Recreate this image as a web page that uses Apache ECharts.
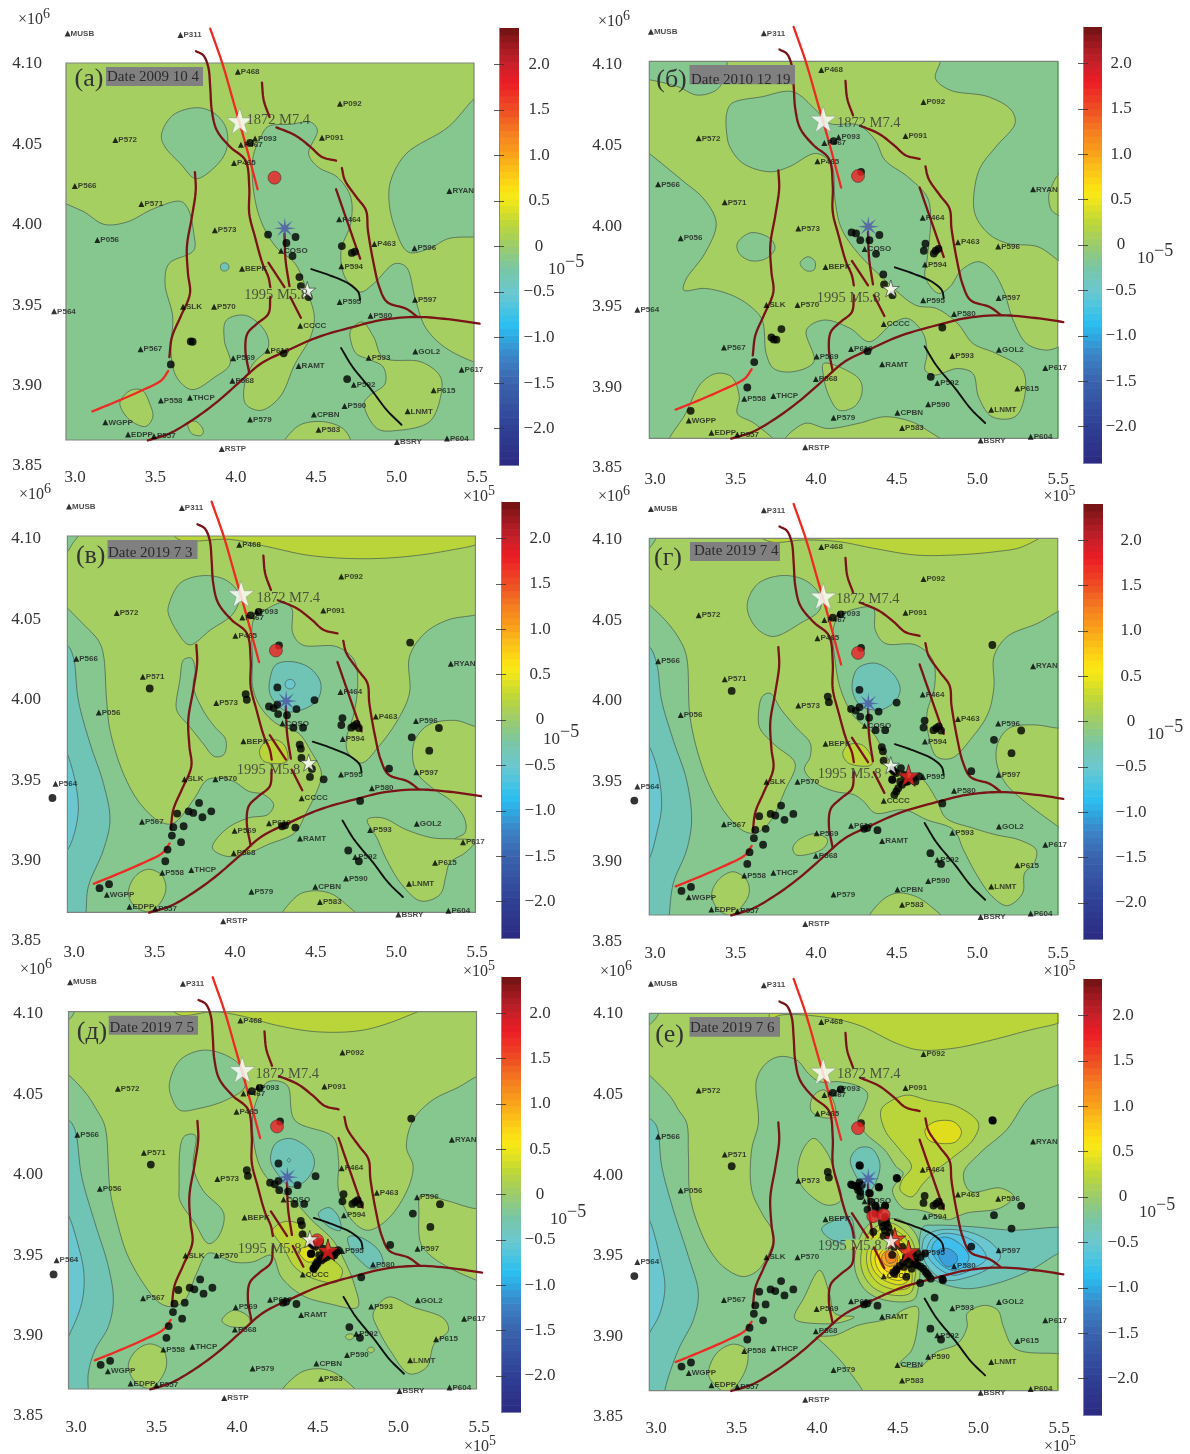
<!DOCTYPE html>
<html><head><meta charset="utf-8"><style>html,body{margin:0;padding:0;background:#fff}#c{width:1190px;height:1454px}</style>
<script src="https://cdn.jsdelivr.net/npm/echarts@6/dist/echarts.min.js"></script></head><body><div id="c"></div>
<script>
// All map values are in km (easting, northing): tick 3.0 x10^5 m = 300 km, 4.10 x10^6 m = 4100 km.
const xTicks={300:'3.0',350:'3.5',400:'4.0',450:'4.5',500:'5.0',550:'5.5'};
const yTicks={3850:'3.85',3900:'3.90',3950:'3.95',4000:'4.00',4050:'4.05',4100:'4.10'};
const mapExtent=[294.4,548.2,3865,4099.4];
const cbarTicks=[-2,-1.5,-1,-0.5,0,0.5,1,1.5,2];
const dates=['Date 2009 10 4','Date 2010 12 19','Date 2019 7 3','Date 2019 7 4','Date 2019 7 5','Date 2019 7 6'];
const letters=['(а)','(б)','(в)','(г)','(д)','(е)'];
const stations=[['MUSB',295.4,4117.7],['P311',365.6,4116.8],['P468',401.3,4094],['P092',464.8,4074.1],['P572',325.1,4051.5],['P093',412,4052.4],['P091',453.6,4053],['P467',403.2,4048.6],['P465',398.9,4037.2],['P566',299.9,4022.9],['RYAN',532.9,4019.8],['P571',341.3,4011.7],['P464',464.3,4002.2],['P573',387,3995.4],['P056',313.9,3989.4],['P463',486.2,3986.9],['COSO',428.2,3982.7],['P596',511.2,3984.2],['P594',465.7,3973],['BEPK',403.9,3971.5],['P597',511.5,3952.2],['P595',464.6,3950.8],['SLK',367.2,3947.9],['P570',386.5,3947.9],['P564',287,3945],['P580',483.8,3942.3],['CCCC',440.1,3936.1],['P567',340.8,3921.4],['P616',419.8,3920.5],['GOL2',511.7,3920.1],['P569',398.4,3915.8],['P593',482.7,3916.2],['RAMT',439.1,3911],['P617',540.5,3908.7],['P568',397.9,3901.9],['P592',473.4,3899.4],['P615',523.1,3895.9],['THCP',371.5,3891.3],['P558',353.4,3889.6],['P590',467.7,3886.1],['LNMT',506.9,3882.8],['CPBN',448.6,3880.9],['P579',408.9,3877.8],['WGPP',318.9,3876],['P583',451.5,3871.4],['EDPP',333,3868.4],['P557',349.1,3867.4],['BSRY',500.3,3863.7],['P604',531.4,3866],['RSTP',391.3,3859.4]];
const faultsDark=[
[[375.3,4106.7],[379.8,4104.2],[382.9,4096.9],[384.1,4084.5],[385.1,4070],[388.2,4057.6],[396.5,4047.2],[406,4038.9],[408.4,4022.3],[408.4,4005.7],[412,3991.2],[416.7,3974.6],[420.3,3966.3],[421.5,3960.1]],
[[416.3,4087.2],[417.4,4076.2],[421,4065.8]],
[[425.3,4059.4],[437,4054.4],[446.5,4047.2],[453.6,4041],[462.4,4038.7]],
[[466,4034.1],[467.9,4026.5],[475,4016.1],[481,4007.8],[482.2,3995.4],[485.8,3974.6],[489.3,3960.1],[494.1,3950.8],[506,3946.6],[512.6,3941.9]],
[[462.4,4020.9],[469.1,4001.6],[477.4,3977.7]],
[[374.6,4031.6],[375.1,4020.2],[372.7,4003.6],[369.6,3985],[370.3,3968.4],[371.5,3956],[365.6,3941.5],[360.3,3929],[358.7,3916.6]],
[[420.3,3975.3],[430.3,3960.1]],
[[430.3,3993.3],[431,3976.7],[433.4,3960.7]],
[[433.9,3953.9],[440.5,3941]],
[[421.5,3953.9],[420.3,3943.5],[413.2,3937.3],[407.2,3931.1],[406,3920.7],[408.4,3906.6]],
[[345.3,3864.8],[358.4,3868.9],[372.7,3877.2],[387,3887.6],[401.3,3900],[415.5,3912.4],[432.2,3920.7],[451.2,3929],[472.7,3935.2],[491.7,3939.8],[513.1,3941.5],[534.5,3939.8],[551.7,3937.3]]];
const faultsRed=[[[384.1,4120.8],[391.7,4099],[398.9,4074.1],[406,4049.3],[413.6,4020.9]],[[310.8,3882.8],[325.1,3888.6],[341.8,3895.9],[353.7,3902.1],[358,3907.9]]];
const faultsBlack=[[[447,3971.3],[458.4,3967.4],[470.3,3962.2],[476.2,3957],[477.4,3952.2]],[[465.5,3922.2],[472.7,3910.4],[484.6,3895.9],[494.1,3883.4],[503.1,3874.5]]];
const star1872=[402.5,4063.4], star1995=[444.5,3958.2], swarmCenter=[430.5,3996.6], redCircleBase=[424.1,4028.1];

const eventsA=[[408.9,4049.7],[420.1,3992.7],[431.5,3987.5],[437.2,3991.2],[435.3,3979.4],[439.6,3966.3],[440.5,3960.7],[445.3,3953.9],[466,3985.6],[472.2,3981.3],[474.1,3982.1],[372,3926.3],[373.2,3926.1],[359.6,3912],[429.8,3918.9],[469.3,3902.9]];
const eventsB=[[408.9,4049.8],[420.1,3993],[422.9,3992.4],[425.5,3988.2],[431.2,3988.2],[437.4,3991.4],[435.3,3979.7],[439.8,3966.9],[440.3,3960.7],[445.5,3954],[466,3986],[465,3981.6],[471.2,3979.9],[472.4,3981.6],[474.1,3982.8],[376.5,3932.9],[370.3,3927.7],[371.7,3926.5],[373.4,3926.3],[359.6,3912.4],[430,3919.2],[476.5,3933.9],[469.3,3903.2],[355.3,3896.6],[320.1,3882.1],[426,4030.7]];
const eventsC=[[408.4,4050],[413.4,4052.1],[426,4031.2],[425,4005.1],[405.3,4000.9],[406,3997.4],[419.8,3993.2],[422.7,3992.2],[425,3994.3],[436.9,3991.6],[448.1,3997.2],[425.5,3988.5],[431,3987.8],[435,3980],[441,3980],[465.5,3986],[464.8,3981.6],[471,3980],[472.7,3981.2],[474.3,3982.4],[475.7,3979.8],[438.9,3969.4],[439.6,3966.9],[440,3961.1],[446.5,3954.3],[445.3,3949.3],[453.8,3947.8],[507.6,4033],[508.6,3974],[525.5,3979.8],[519.5,3965.7],[494.5,3954.5],[476.5,3934.4],[345.6,4004.4],[285.1,3936.2],[376.3,3933.1],[362.7,3926.5],[369.8,3927.9],[372.7,3926.9],[383.9,3927.9],[378.4,3924.2],[366.7,3918.6],[360.3,3918],[359.4,3912.8],[365.1,3908.7],[356.7,3904.1],[355.3,3896.8],[320.3,3882.5],[314.4,3880],[427.9,3918.6],[429.8,3919.2],[436.2,3917.8],[469.1,3903.5],[475.7,3896.8]];
const eventsD=[[445.5,3955.4],[450.8,3956.4],[447.9,3953.3],[452.7,3952.2],[458.6,3950.2],[462.2,3951.2],[455,3948.1],[445.5,3949.1],[451.5,3946],[449.1,3943.9],[447.9,3941.9],[446.7,3939.8],[450.3,3948.1],[459.8,3948.1]];
const eventsE=[[445.1,3948.9],[461.2,3950.1],[458.9,3948],[455.3,3947],[451.7,3944.9],[449.3,3942.9],[447,3939.7],[448.2,3941.4],[453.5,3946],[457,3949.5]];
const eventsF=[[425.3,4004.7],[448.4,3996.8],[507.9,4032.7],[476.9,3933.6],[471.7,3922.8],[462.7,3931.9],[454.1,3935.7],[420.5,3992.7],[423.4,3991.6],[426.5,3992.7],[424.1,3989.6],[425.5,3985.8],[431.5,3987.5],[437.2,3991.2],[432.4,3982.3],[434.8,3979.2],[430,3977.5],[440.8,3979.6],[434.8,3975],[440.8,3973],[442,3968.8],[440.8,3964.7],[433.6,3963.6],[443.1,3960.5],[451.5,3954.3],[455,3948.1],[458.6,3945],[452.7,3941.9],[447.9,3939.8],[446.7,3937.7],[461,3942.9],[464.6,3940.8],[467,3937.7],[469.3,3934.6],[459.8,3947.1],[465.8,3950.2],[457.4,3940.8],[443,3966.5],[441.5,3971],[437,3977],[444,3963],[456,3943.5],[460,3943.5],[463,3942],[466,3939],[468,3936.5],[446,3938.5],[448,3940.5],[450,3942.5],[452,3944.5],[454,3946.5],[456,3948.5],[458,3950],[461,3950.5],[463,3948],[460,3945]];
const redCircles=[[redCircleBase],[redCircleBase],[redCircleBase],[redCircleBase],[redCircleBase,[449.1,3957.4]],[redCircleBase,[433.6,3973.4],[440,3974.2]]];
const redStars=[[],[],[],[[455.5,3951.8]],[[455.8,3951.4]],[[447,3959.5],[455.5,3951.6]]];
const eventsByPanel=[eventsA,eventsB,eventsC,eventsC.concat(eventsD),eventsC.concat(eventsD,eventsE),eventsC.concat(eventsF)];

// Contour regions, each [band, outline]
const contours2009=[
[-0.25,[[285,4011.5],[303.7,4007.8],[318,3999.1],[332.2,4000.5],[348.9,4008.8],[365.6,4013.4],[370.3,4008.8],[373.9,3993.3],[373.9,3982.9],[358.4,3974.6],[356,3962.2],[360.8,3941.5],[359.6,3920.7],[363.2,3904.1],[372.7,3896.3],[387,3904.1],[396.5,3912.4],[392.9,3926.9],[394.1,3939.4],[406,3942.5],[417.9,3933.2],[420.3,3922.8],[410.8,3912.4],[406,3902.1],[406,3887.6],[415.5,3883.4],[427.4,3891.7],[436.9,3912.4],[446.5,3929],[448.9,3941.5],[444.1,3958],[437,3974.6],[425,3985],[415.5,4001.6],[410.8,4022.3],[410.8,4041],[415.5,4053.4],[420.3,4060],[434.6,4061.3],[446.5,4062.7],[450.8,4057.6],[445.3,4043],[451.2,4034.7],[463.1,4028.5],[471.5,4016.1],[471.5,3999.5],[465.5,3982.9],[467.9,3966.3],[477.4,3957],[485.8,3962.2],[498.8,3974.6],[506,3972.6],[511.9,3951.8],[517.9,3935.2],[529.8,3922.8],[548.3,3913.5],[553.6,3912.4],[560,3850],[280,3850]]],
[-0.25,[[556,4082.4],[548.3,4077.2],[532.2,4059.6],[506,4043],[496.5,4026.5],[495.3,4014],[498.8,3997.4],[507.2,3981.9],[520.3,3984],[532.2,3990.2],[548.3,3991.2],[556,3991.2],[565,3990],[565,4085]]],
[-0.25,[[353.7,4054.4],[360.8,4066.9],[376.3,4071.6],[387,4067.9],[394.1,4058.6],[394.1,4045.1],[387,4034.7],[375.1,4027.5],[365.6,4036.8],[356,4047.2]]],
[0,[[471.5,3933.2],[478.6,3938.4],[485.8,3929],[491.7,3916.2],[515.5,3913.5],[527.4,3904.1],[526.9,3889.6],[520.3,3876.2],[501.2,3871],[488.1,3872],[479.8,3887.6],[483.4,3892.7],[492.9,3900],[491.7,3910.4],[483.4,3914.9],[475,3918.7],[471.5,3927]]],
[0,[[328,3888.6],[334.6,3895.9],[341.8,3895.9],[346.5,3887.6],[348.4,3879.3],[344.1,3873.5],[335.8,3876.2],[329.9,3882.4]]],
[0,[[370.3,3875.1],[375.1,3876.6],[379.8,3871],[378.6,3867.9],[372.7,3868.9]]],
[0,[[429.1,3860.6],[434.6,3870],[441.7,3875.1],[456,3876.2],[467.9,3871],[471.5,3860.6]]],
[-0.5,[[392.9,3975.2],[395,3974.4],[395.8,3972.6],[395,3970.8],[392.9,3970],[391,3970.8],[390.5,3972.6],[391,3974.4]]]];

const contours2010=[
[-0.25,[[281.3,4052.5],[294.4,4042.1],[314.6,4025.6],[328.9,4013.1],[336,3998.6],[328.9,3979.9],[317,3963.4],[315.8,3957.1],[328.9,3958.2],[345.6,3954],[357.5,3946.8],[364.6,3938.5],[367,3917.8],[371.7,3908.4],[383.6,3906.4],[396.7,3912.6],[392,3932.3],[402.7,3938.5],[419.3,3933.3],[431.2,3925],[445.5,3936.4],[455,3939.5],[464.6,3930.2],[467,3917.8],[465.8,3907.4],[471.7,3904.3],[486,3908.4],[495.5,3905.3],[499,3890.8],[507.4,3878.4],[521.7,3878.4],[527.6,3890.8],[526.4,3907.4],[509.8,3917.8],[495.5,3924],[486,3936.4],[472.9,3945.7],[459.8,3947.8],[440.8,3963.4],[421.7,3983],[413.4,3996.5],[409.8,4013.1],[407.4,4035.9],[397.9,4042.1],[381.3,4033.8],[369.4,4030.7],[352.7,4035.9],[344.4,4046.3],[342.5,4054.6],[342.5,4067],[345.6,4073.2],[364.6,4077.4],[383.6,4080.5],[397.9,4069.1],[406.3,4060.8],[424.1,4059.8],[434.8,4050.4],[440.8,4038],[455,4027.6],[467,4015.2],[469.3,4002.8],[467,3975.8],[465.8,3965.4],[474.1,3955.1],[481.2,3959.2],[488.4,3969.6],[499,3974.8],[507.4,3969.6],[514.5,3957.1],[520.5,3938.5],[528.8,3924],[540.7,3919.8],[557.4,3921.9],[565,3850],[275,3850]]],
[-0.25,[[475.3,4106.4],[475.3,4099.4],[472.2,4088.8],[481.2,4081.5],[505,4077.4],[519.3,4069.1],[521.7,4060.8],[509.8,4046.3],[500.3,4033.8],[496.7,4021.4],[496.7,4004.8],[505,3992.4],[516.9,3986.2],[535.9,3984.1],[548.3,3975.8],[557.4,3969.6],[565,3965],[565,4112],[480,4112]]],
[0,[[552.6,4031.8],[548.3,4028.7],[544.3,4021.4],[542.6,4015.2],[544.3,4006.9],[548.3,4003.8],[552.6,4001.7],[560,4015]]],
[-0.25,[[281.3,4089.8],[295.6,4087.7],[312.2,4083.6],[324.1,4078.4],[336,4081.5],[340.8,4088.8],[341.3,4102.3],[281.3,4102.3]]],
[0,[[306.3,3859.7],[317,3880.4],[326.5,3899.1],[336,3905.3],[345.6,3903.2],[350.3,3890.8],[349.1,3880.4],[359.8,3874.2],[374.1,3859.7]]],
[0,[[376.5,3859.7],[390.8,3874.2],[405.1,3871.1],[424.1,3874.2],[440.8,3878.4],[457.4,3875.3],[467,3870.1],[480,3859.7]]],
[0,[[402.7,3911.5],[414.6,3908.4],[425.3,3901.2],[426.5,3892.9],[421.7,3884.6],[412.2,3882.5],[406.3,3890.8],[402.7,3903.2]]],
[-0.25,[[349.1,3986.2],[357.5,3992.8],[369.4,3989.3],[372.5,3983.1],[367,3976.8],[357.5,3975.4],[350.3,3979.9]]],
[-0.25,[[388.4,3974.8],[393.2,3977.9],[397.4,3974.8],[396.7,3969.6],[392,3969.2],[388.4,3972.7]]]];

const contours20190703=[
[-0.25,[[288.2,4059.6],[294.4,4054.4],[303.7,4045.1],[313.6,4034.4],[316.7,4026.1],[318.8,3997.1],[320.9,3978.4],[329.2,3951.5],[339.6,3932.8],[352,3921.4],[360.3,3920.4],[372.7,3934.9],[381,3947.3],[388.2,3948.7],[397.7,3946.6],[407.2,3940.4],[416.7,3938.3],[422.7,3932.1],[419.1,3925.9],[407.2,3923.8],[392.9,3916.6],[384.6,3905.1],[392.9,3900],[404.8,3901],[419.1,3907.2],[435.8,3914.5],[442.9,3926.9],[450,3941.4],[452.4,3951.8],[445.3,3966.3],[438.1,3976.6],[423.9,3982.9],[414.3,3993.2],[409.6,4005.7],[409.6,4022.3],[409.1,4040.9],[410.8,4048.2],[419.1,4054.4],[428.6,4057.9],[433.9,4054.4],[434.6,4038.8],[440.5,4031.6],[461.9,4030.5],[472.7,4022.3],[475,4007.7],[472.7,3989.1],[467.9,3972.5],[469.1,3964.2],[477.4,3958],[488.1,3968.4],[500,3985],[507.2,4001.5],[507.2,4024.3],[516.7,4038.8],[531,4047.1],[548.1,4050.2],[554.8,4052.3],[565,3850],[275,3850]]],
[-0.25,[[357.2,4055.4],[364.4,4069.9],[378.6,4074.7],[392.9,4072],[401.2,4062.7],[397.7,4051.3],[383.4,4040.9],[370.3,4031.6],[362,4040.9],[357.2,4051.3]]],
[0.2,[[358.4,4103.1],[364.4,4096.9],[395.3,4097.3],[419.1,4092.7],[442.9,4087.6],[466.7,4085.5],[490.5,4085.5],[514.3,4087.6],[533.3,4090.7],[548.1,4093.8],[554.8,4096.9],[554.8,4107.3],[358.4,4107.3]]],
[-0.25,[[288.2,4084.4],[294.4,4089.6],[297.7,4094.8],[301.3,4100],[302.5,4107.3],[288.2,4107.3]]],
[-0.5,[[285,4035],[294.4,4031.3],[298.1,4024],[301.2,3997.1],[308.5,3970.1],[316.8,3945.3],[320.9,3922.5],[316.8,3903.8],[307.4,3881],[306,3865.4],[305,3855],[285,3855]]],
[-0.6,[[291.9,3970.1],[294.4,3963.9],[299.1,3947.3],[301.2,3928.7],[298.1,3912.1],[294.4,3903.8],[291.9,3901.7],[285,3935]]],
[0,[[554.8,3979.8],[548.1,3980.8],[535.7,3984.5],[519.1,3981.8],[510.7,3972.5],[509.1,3962.1],[511.9,3951.8],[521.4,3942.4],[533.3,3934.2],[541.7,3922.7],[541.7,3914.5],[535.7,3910.7],[554.8,3908.2],[562,3945]]],
[0,[[481,3922.7],[490.5,3923.8],[504.8,3916.6],[521.4,3911.4],[535.7,3910.7],[548.1,3909.3],[541.7,3902],[532.2,3895.8],[529.8,3887.5],[526.2,3876.1],[514.3,3872],[502.4,3882.3],[492.9,3897.9],[486.9,3911.4]]],
[0,[[332.3,3876.9],[336.4,3887.2],[344.7,3891.8],[353,3888.2],[355.7,3880],[352,3870.6],[344.7,3865.4],[336.4,3868.6]]],
[0,[[426.2,3858.5],[437,3875],[445.3,3878.2],[457.2,3877.1],[466.7,3870.9],[477.4,3858.5]]],
[-0.25,[[362,3993.2],[364.4,4009.8],[366.7,4022.3],[371.5,4023.3],[373.9,4016],[372.7,4005.7],[378.6,3991.2],[385.8,3980.8],[392.9,3972.5],[391.7,3963.2],[385.8,3962.1],[378.6,3970.4],[370.3,3980.8],[363.2,3989.1]]],
[-0.5,[[420.3,4009.8],[423.9,4019.1],[433.4,4021.2],[445.3,4017.1],[452,4007.7],[450,3997.4],[440.5,3991.2],[431,3990.1],[423.9,3995.3],[420.3,4001.5]]],
[-0.6,[[432.9,4010.1],[435.1,4009.2],[436,4007.1],[435.1,4005],[432.9,4004.1],[430.7,4005],[429.8,4007.1],[430.7,4009.2]]],
[0.2,[[413.9,3965.2],[416.7,3970.4],[423.9,3972.5],[429.8,3968.4],[431,3959],[416.7,3959]]]];

const contours20190704=[
[-0.25,[[288.4,4063.1],[294.4,4058],[305.1,4047.6],[313.5,4036],[317.6,4025.6],[319.7,3988.3],[325.9,3961.4],[333.2,3942.7],[343.5,3926.1],[353.9,3916.8],[361.1,3916.2],[369.4,3923],[378.8,3942.7],[385,3959.3],[372.5,3970.7],[363.2,3981],[362.2,3989.4],[364.6,4000.9],[369.4,4003],[376.5,3992.7],[386,3981.3],[394.4,3971.9],[394.4,3963.6],[390.8,3955.4],[397.9,3947.1],[409.8,3941.9],[421.7,3939.8],[427.7,3935.6],[434.8,3928.4],[452.7,3930.5],[467,3924.2],[483.6,3918],[489.6,3905.6],[497.9,3890],[507.4,3876.6],[516.9,3870.8],[526.4,3878.6],[527.6,3891],[533.6,3897.3],[534.8,3905.6],[524.1,3911.8],[509.8,3914.9],[495.5,3919.1],[478.8,3925.3],[472.9,3936.7],[464.6,3949.1],[456.2,3953.3],[447.9,3955.4],[440.8,3965.7],[433.6,3978.1],[421.7,3988.5],[413.4,4005.1],[409.8,4023.8],[408.6,4042.4],[412.2,4050.7],[424.1,4055.9],[433.6,4055.9],[434.8,4042.4],[440.8,4034.1],[459.8,4033.1],[470.5,4023.8],[471.7,4007.2],[467,3990.6],[468.1,3976.1],[472.9,3963.6],[482.4,3962.6],[495.5,3976.1],[505,3990.6],[508.6,4007.2],[508.6,4025.8],[516.9,4038.3],[535.9,4046.6],[548.3,4053.8],[557.4,4058],[565,3850],[275,3850]]],
[-0.25,[[355.8,4061.1],[362.2,4071.4],[376.5,4076.2],[390.8,4073.5],[400.3,4064.2],[400.3,4054.9],[388.4,4046.6],[371.7,4038.3],[362.2,4042.4],[355.8,4052.8]]],
[0.2,[[358.7,4104.6],[369.4,4097.3],[390.8,4098.4],[412.2,4097.3],[433.6,4093.2],[459.8,4089],[483.6,4089],[509.8,4091.1],[526.4,4094.2],[541.9,4104.6]]],
[-0.25,[[288.4,4088],[294.4,4093.2],[299.2,4100.5],[300.3,4104.6],[288.4,4104.6]]],
[-0.5,[[285,4036],[294.4,4031.9],[299,4021.5],[302,3998.7],[309.3,3973.8],[317.6,3948.9],[320.7,3924.1],[317.6,3905.4],[309.3,3884.7],[306.8,3865],[306,3855],[285,3855]]],
[-0.6,[[290,3975],[294.4,3969.7],[300,3953.1],[302,3932.4],[299,3915.8],[294.4,3900.2],[290,3895],[285,3935]]],
[0,[[548.3,3981.3],[533.6,3983.3],[518.1,3981.3],[511,3971.9],[510.3,3959.5],[515.7,3947.1],[526.4,3936.7],[548.3,3920.1],[557.4,3913.9],[560,3950],[557.4,3981.3]]],
[0,[[333.2,3878.4],[338.3,3887.8],[346.6,3891.9],[354.9,3886.7],[356.4,3878.4],[351.8,3870.2],[345.6,3865],[337.3,3868.1]]],
[0,[[430,3860],[438.4,3873.5],[447.9,3878.6],[459.8,3876.6],[469.3,3870.4],[478.8,3860]]],
[0,[[383.6,3906.6],[387.2,3911.8],[397.9,3915.6],[405.1,3911.8],[402.7,3906.6],[392,3902.5],[385.5,3902.5]]],
[-0.5,[[420.5,4009.2],[424.1,4018.6],[434.8,4021.7],[445.5,4015.5],[450.3,4006.1],[447.9,3998.9],[438.4,3992.7],[426.5,3994.7],[421.7,4000.9]]],
[0.2,[[414.6,3965.7],[418.2,3970.9],[426.5,3970.9],[432.4,3963.6],[432.4,3958.4],[418.2,3959.5]]]];

const contours20190705=[
[-0.25,[[287.5,4065.2],[294.6,4060],[305.4,4048.6],[311.9,4038.5],[317.1,4028.1],[320.2,3988.7],[324.3,3970.1],[330.6,3949.4],[340.9,3930.7],[351.3,3918.3],[359.6,3916.2],[366.8,3920.3],[374.1,3936.9],[381.4,3949.4],[397,3943.9],[408.9,3943.9],[420.8,3948],[426.7,3934.6],[439.8,3923.2],[456.5,3918],[474.3,3915.9],[472,3930.4],[466,3944.9],[458.9,3957.4],[445.8,3969.8],[436.2,3980.2],[423.2,3990.5],[413.6,4003],[408.9,4025.8],[410.1,4040.3],[418.4,4055.8],[430.3,4053.8],[435.1,4032],[458.9,4021.6],[462.4,4007.1],[462.4,3988.5],[470.8,3969.8],[480.3,3963.6],[492.2,3969.8],[504.1,3986.4],[508.8,4003],[504.6,4015.4],[508.8,4032],[520.7,4044.4],[537.4,4052.7],[548.1,4059],[554.1,4061],[565,3850],[275,3850]]],
[-0.25,[[357.2,4054.8],[363.7,4069.3],[377.9,4075.5],[392.2,4072.4],[401.7,4065.2],[404.1,4052.7],[392.2,4044.4],[375.6,4039.3],[363.7,4038.2],[358.4,4046.5]]],
[0.2,[[357.7,4102.5],[363.7,4097.3],[385,4099.4],[404.1,4096.3],[423.2,4091.1],[449.3,4086.9],[477.9,4088],[504.1,4096.3],[516,4102.5]]],
[-0.25,[[287.5,4092.1],[294.4,4094.2],[298.2,4099.4],[299.4,4104.5],[287.5,4104.5]]],
[-0.5,[[285,4036],[294.3,4032.3],[298.4,4026.1],[302.6,3997],[310.9,3968],[319.2,3941.1],[322.3,3920.3],[319.2,3903.8],[310.9,3889.2],[306.7,3874.7],[306.7,3862.3],[306,3855],[285,3855]]],
[-0.6,[[290,3980],[294.3,3973.2],[299.5,3957.7],[304,3936.9],[302.6,3918.3],[294.3,3897.5],[290,3890],[285,3935]]],
[0,[[483.9,3911.8],[493.4,3922.1],[508.8,3915.9],[527.9,3908.7],[530.7,3901.4],[521.9,3893.1],[517.2,3878.6],[506.5,3874.4],[494.6,3888.9],[487.4,3901.4]]],
[0,[[554.1,3978],[548.1,3977],[529,3982.2],[513.6,3985.4],[512.4,3973.9],[513.6,3955.3],[520.7,3947],[534.4,3938.7],[548.1,3932.5],[554.1,3929.4],[560,3955]]],
[0,[[389.8,3907.6],[397,3913.9],[406.5,3909.7],[406.5,3904.5],[394.6,3903.9]]],
[0,[[331.6,3879.9],[336.8,3889.2],[345.1,3893],[353.4,3889.2],[355.4,3879.9],[351.3,3870.6],[345.1,3865.4],[335.7,3869.5]]],
[0,[[424.4,3857.9],[437.4,3874.4],[449.3,3877.6],[461.2,3874.4],[476.7,3857.9]]],
[0,[[466.7,3897.7],[468.2,3898.9],[470,3899.2],[471.5,3898.6],[472,3897.7],[471,3896.3],[468.9,3895.6],[467.4,3896.3]]],
[0,[[480.3,3889.4],[481.3,3890.6],[482.7,3891],[484,3890.5],[484.6,3889.4],[484,3888.2],[482.7,3887.5],[481.2,3888.1]]],
[-0.25,[[363.2,3990.5],[366,4021.6],[373.2,4022.7],[372,4003],[378,3988.5],[391,3974],[387.5,3959.4],[381.5,3955.3],[373.2,3967.7],[363.7,3982.2]]],
[-0.5,[[420.1,4007.1],[423.2,4017.5],[432.7,4020.6],[444.6,4013.3],[447.4,4005],[442.2,3994.7],[432.7,3990.5],[424.4,3998.8]]],
[-0.6,[[431.5,4008.3],[432.5,4007.1],[431.5,4005.9],[430.5,4007.1]]],
[-0.5,[[449.8,3973.9],[456.5,3977.7],[462.4,3971.9],[463.6,3963.6],[456.5,3965.7]]],
[-0.5,[[468.4,3959.4],[475.5,3959.4],[487.4,3951.1],[489.8,3942.8],[482.7,3939.7],[476.7,3943.9],[469.6,3952.2]]],
[0.2,[[421.3,3963.6],[427.9,3968.8],[437.4,3967.7],[442.2,3959.4],[454.1,3949.1],[464.8,3938.7],[461.2,3931.5],[447,3933.5],[435.1,3940.8],[427.9,3953.2],[423.2,3959.4]]],
[0.4,[[437.4,3951.1],[447,3953.2],[449.3,3946],[443.4,3943.9]]]];

const contours20190706=[
[-0.25,[[285,4070],[294.4,4061.1],[307.5,4047.6],[312.4,4039.6],[317.6,4031.3],[318.7,4012.6],[319.7,3985.7],[325.9,3965],[333.2,3950.5],[341.5,3941.1],[352.9,3935.9],[362.2,3940.1],[370.5,3954.6],[371.5,3962.9],[364.3,3975.3],[358,3989.8],[358,4014.7],[362.2,4031.3],[361,4058],[367,4068.3],[375.3,4072.5],[386,4070.4],[393.2,4062.1],[400.3,4056.9],[412.2,4056.9],[424.1,4054.2],[430,4049.7],[427.7,4040.4],[424.1,4033.1],[428.9,4024.8],[440.8,4014.4],[447.9,4004.1],[452.2,4000],[445.5,3989.6],[452.2,3978.4],[460.7,3977.4],[469,3975.4],[479.3,3971.2],[491.8,3975.4],[512.5,3978.5],[520.8,3985.7],[512.5,3990.9],[493.8,3988.8],[489.7,4000.2],[500,4012.7],[516.6,4027.2],[531.2,4047.6],[548.3,4054.9],[557.4,4059],[565,3850],[275,3850]]],
[0.2,[[369.4,4103.6],[369.4,4096.3],[376.5,4098.4],[400.3,4097.4],[424.1,4092.2],[447.9,4080.8],[462.2,4076.6],[483.6,4077.7],[507.4,4082.8],[531.2,4089.1],[548.3,4093.2],[557.4,4097.4],[557.4,4105.6],[369.4,4105.6]]],
[-0.25,[[288.4,4089],[294.4,4092.2],[299.2,4097.4],[301.5,4103.6],[288.4,4103.6]]],
[-0.5,[[285,4040],[294.4,4034.4],[299,4029.2],[302.1,4004.4],[309.3,3977.4],[318.7,3948.4],[324.9,3925.6],[321.8,3909],[312.4,3890.3],[304.1,3865.5],[303.1,3855],[285,3855]]],
[-0.6,[[290,3978],[294.4,3971.2],[300,3952.5],[304.1,3929.7],[301,3913.1],[294.4,3900.7],[290,3893],[285,3935]]],
[0,[[331.1,3875.8],[336.3,3888.3],[346.6,3893.9],[354.9,3890.3],[354.9,3880],[347.7,3867.5],[341.5,3864.4],[334.2,3869.6]]],
[0,[[386.7,4004.1],[390.8,4016.5],[396.7,4021.7],[405.1,4012.4],[409.8,3999.9],[413.4,3983.3],[405.1,3980.2],[393.2,3987.5],[387.2,3995.8]]],
[0,[[394.8,4039.3],[396,4047.6],[402.7,4051.8],[408.6,4045.5],[409.8,4035.2],[400.3,4035.2]]],
[-0.5,[[419.3,4008.2],[424.1,4015.5],[432.4,4015.5],[437.7,4006.1],[434.8,3993.7],[428.9,3986.5],[424.1,3995.8]]],
[-0.5,[[401.5,3965.7],[409.8,3970.9],[419.3,3973],[421.7,3964.7],[421.7,3956.4],[414.6,3956.4],[405.1,3960.5]]],
[0.2,[[438.4,4039.3],[445.5,4045.5],[455,4048.6],[467,4045.5],[486,4041.4],[499,4031],[495.5,4020.7],[483.6,4010.3],[472.9,4002],[464.6,3993.7],[457.4,3985.4],[450.3,3989.6],[451.5,3995.8],[457.4,4004.1],[450.3,4014.4],[440.8,4026.9]]],
[0.4,[[465.8,4026.9],[471.7,4032],[483.6,4032],[488.4,4025.8],[484.8,4019.6],[475.3,4018.6],[468.1,4020.7]]],
[0,[[384.8,3909.8],[390.8,3923.2],[400.3,3939.8],[406.3,3925.3],[409.8,3912.9],[421.7,3910.8],[414.6,3907.7],[400.3,3906.6]]],
[0,[[397.9,3898.3],[409.8,3899.4],[424.1,3905.6],[443.1,3909.8],[453.9,3916],[461,3917],[461,3904.6],[457.4,3890.1],[450.3,3881.8],[462.2,3879.7],[472.9,3889],[486,3894.2],[491.9,3904.6],[491.9,3912.9],[502.6,3918],[511,3914.9],[514.5,3904.6],[521.7,3891.1],[548.3,3888],[557.4,3887],[557.4,3852.7],[433.6,3852.7],[427.7,3864.1],[412.2,3884.9],[400.3,3896.3]]],
[-0.5,[[464.6,3966.8],[471.7,3967.8],[495.5,3966.8],[519.3,3964.7],[557.4,3964.7],[557.4,3954.3],[548.3,3950.2],[531.2,3939.8],[509.8,3931.5],[490.7,3928.4],[471.7,3933.6],[464.6,3939.8],[462.2,3954.3]]],
[-0.6,[[465.8,3960.5],[474.1,3964.7],[493.1,3963.6],[507.4,3956.4],[512.6,3948.1],[505,3940.8],[493.1,3935.7],[478.8,3933.6],[469.3,3939.8],[464.1,3950.2]]],
[-0.75,[[469.3,3958.5],[476.5,3962.6],[490.7,3960.5],[500.3,3954.3],[503.8,3947.1],[495.5,3940.8],[483.6,3936.7],[472.9,3941.9],[467,3950.2]]],
[-0.9,[[471.7,3957.4],[477.7,3960.5],[487.2,3956.4],[493.1,3948.1],[489.6,3941.9],[482.4,3939.8],[474.1,3945],[470,3952.2]]],
[-1.05,[[474.1,3952.2],[480,3953.3],[485.5,3949.1],[485.5,3945],[480,3941.9],[475.3,3946]]],
[0,[[430.6,3968.1],[423.3,3954.6],[422.3,3940.1],[428.5,3927.7],[439.9,3921.5],[458.6,3921.5],[461.7,3929.8],[462.7,3944.3],[460.7,3960.9],[450.3,3971.2],[439.9,3971.2]]],
[0.2,[[432.7,3965],[426.5,3952.6],[426.5,3940.1],[432.7,3929.8],[444.1,3924.6],[456.5,3925.6],[459.6,3936],[459.6,3952.6],[454.4,3962.9],[444.1,3969.2]]],
[0.3,[[433.7,3960.9],[429.6,3950.5],[430.6,3940.1],[436.8,3931.8],[448.2,3927.7],[456.5,3929.8],[457.5,3942.2],[456.5,3954.6],[450.3,3962.9],[439.9,3966]]],
[0.4,[[434.7,3956.7],[432,3948.4],[433.7,3940.1],[439.9,3933.9],[450.3,3930.8],[455.5,3933.9],[455.5,3946.4],[452.4,3956.7],[442,3962.9]]],
[0.5,[[436.8,3952.6],[434.7,3947.4],[436.8,3940.1],[443,3935],[451.3,3933.9],[453.4,3940.1],[451.3,3950.5],[444.1,3958.8]]],
[0.7,[[437.9,3950.5],[437.9,3944.3],[442,3939.1],[449.3,3938.1],[450.3,3946.4],[445.1,3954.6]]],
[0.85,[[438.9,3948.4],[439.9,3944.3],[444.1,3942.2],[448.2,3944.3],[448.2,3949.5],[443,3952.6]]],
[1,[[441,3949.5],[443,3944.3],[447.2,3945.3],[447.2,3950.1],[443,3952.2]]]];
const contoursByPanel=[contours2009,contours2010,contours20190703,contours20190704,contours20190705,contours20190706];
const labelPatch2019=[415.8,3952.3,445.5,3958.9];

// colour tables
const bandFill={'-1.05':'#3A9FDA','-0.9':'#3FBEEE','-0.75':'#58C4E0','-0.6':'#6BC7CF','-0.5':'#6FC4B6','-0.25':'#85C78F','0':'#A6CF62','0.2':'#B9D53A','0.3':'#CBD92D','0.4':'#E0DD1C','0.5':'#F4E616','0.7':'#FBC815','0.85':'#F9A51A','1':'#F58A20'};
const cbarStops=[[-2.4,'#2B2A80'],[-2,'#2F3F94'],[-1.5,'#3B63AE'],[-1.2,'#3B85C6'],[-1,'#2FA8E0'],[-0.85,'#2CC0F0'],[-0.5,'#6CC8CF'],[-0.25,'#78C6A6'],[0,'#9BCB6C'],[0.25,'#BDD63A'],[0.5,'#EFE61A'],[0.6,'#FBE714'],[0.75,'#FCD015'],[1,'#F9A51A'],[1.25,'#F57E20'],[1.5,'#EE4E24'],[1.8,'#ED1C24'],[2,'#C9202A'],[2.2,'#A01A20'],[2.4,'#701214']];

// panel layout in page pixels
const mapBox=[[66,63,408,377],[649.3,61.3,408.4,377],[67.4,536,408,376.3],[649.3,538.3,408.4,376.7],[68.5,1011.7,408,377.3],[649.3,1013.3,408.4,377.4]];
const tickBox=[[75,64,402,402],[655,65,403,403],[74,539,403,402],[655,540,403,402],[76,1014,403,402],[656,1014,403,403]];
const barBox=[[499,28,20,437,20,0],[1083,27,19,436,19,1.5],[501,502,19,436,20,1],[1083,504,20,435,28,0],[501,977,20,435,19,3],[1083,979,19,436,21,1]];
const dateBox=[[106,67,97,19,107,77],[689.5,65,105.5,19.3,691,80],[107.5,540,90,19,108,553],[690,542,90,19,694,551],[108.7,1015.7,89.3,19,109.5,1028],[689.5,1017,90.5,19.7,690,1028]];
const letterPos=[[89,79],[671.5,80],[90.7,556],[668,558],[92,1032],[669.6,1035]];
const x106Pos=[[18,20],[598,22],[19,495],[598,497],[20,970],[600,972]];
const x105Pos=[[463,497],[1043.5,497],[463,972],[1043.5,972],[464,1447],[1044,1447]];
const tenPos=[[548,270],[1137,259],[543,740],[1147,735],[550,1220],[1139,1213]];
const lab1872=[[-6.5,-1],[0.5,4],[2,4],[-0.5,3],[0,5],[0.5,3]];
const lab1995=[[9.5,5],[-1.5,10],[0.5,8],[-0.5,9],[0.5,10],[-0.5,6]];

const SERIF='"Liberation Serif","Times New Roman",serif', SANS='"Liberation Sans",Arial,sans-serif';
const starPath='path://M50 0L61 35H98L68 57L79 91L50 70L21 91L32 57L2 35H39Z';
const burstPath='path://M50 0L55 37L85 15L63 45L100 50L63 55L85 85L55 63L50 100L45 63L15 85L37 55L0 50L37 45L15 15L45 37Z';

function hex(c){return [1,3,5].map(i=>parseInt(c.substr(i,2),16));}
function ramp(v){for(let i=1;i<cbarStops.length;i++){if(v<=cbarStops[i][0]){const a=cbarStops[i-1],b=cbarStops[i],t=(v-a[0])/(b[0]-a[0]),p=hex(a[1]),q=hex(b[1]);return 'rgb('+p.map((u,k)=>Math.round(u+(q[k]-u)*t)).join(',')+')';}}return cbarStops[cbarStops.length-1][1];}

// centripetal Catmull-Rom through outline vertices, in screen space (curve drawing only)
function cr(p0,p1,p2,p3,n,out){
  const d=(a,b)=>Math.max(1e-3,Math.sqrt(Math.hypot(a[0]-b[0],a[1]-b[1])));
  const t1=d(p0,p1),t2=t1+d(p1,p2),t3=t2+d(p2,p3);
  const L=(a,b,ta,tb,t)=>[a[0]+(b[0]-a[0])*(t-ta)/(tb-ta),a[1]+(b[1]-a[1])*(t-ta)/(tb-ta)];
  for(let i=0;i<n;i++){const t=t1+(t2-t1)*i/n;
    const A1=L(p0,p1,0,t1,t),A2=L(p1,p2,t1,t2,t),A3=L(p2,p3,t2,t3,t);
    const B1=L(A1,A2,0,t2,t),B2=L(A2,A3,t1,t3,t);
    out.push(L(B1,B2,t1,t2,t));}
}
function curve(pts,closed){
  const n=pts.length,out=[];
  if(n<3&&!closed)return pts;
  const get=i=>closed?pts[(i+n)%n]:(i<0?[2*pts[0][0]-pts[1][0],2*pts[0][1]-pts[1][1]]:i>=n?[2*pts[n-1][0]-pts[n-2][0],2*pts[n-1][1]-pts[n-2][1]]:pts[i]);
  const segs=closed?n:n-1;
  for(let i=0;i<segs;i++)cr(get(i-1),get(i),get(i+1),get(i+2),8,out);
  if(!closed)out.push(pts[n-1]);
  return out;
}

const grid=[],xAxis=[],yAxis=[],series=[],graphic=[];
function txt(x,y,text,size,opt){graphic.push({type:'text',x:x,y:y,z:60,silent:true,style:Object.assign({text:text,fontFamily:SERIF,fontSize:size,fill:'#333',align:'left',verticalAlign:'middle'},opt||{})});}

contoursByPanel.forEach(function(list,i){
  const m=mapBox[i],t=tickBox[i],b=barBox[i];
  // map grid
  const g=grid.length, gy=yAxis.length;
  grid.push({left:m[0],top:m[1],width:m[2],height:m[3],show:false});
  xAxis.push({gridIndex:g,type:'value',min:mapExtent[0],max:mapExtent[1],show:false});
  yAxis.push({gridIndex:g,type:'value',min:mapExtent[2],max:mapExtent[3],show:false});
  const base={xAxisIndex:g,yAxisIndex:gy,coordinateSystem:'cartesian2d',silent:true,animation:false};
  // background band + contour regions
  series.push(Object.assign({},base,{type:'custom',clip:true,z:1,
    data:[[mapExtent[0],mapExtent[2]]].concat(list.map(c=>c[1][0])),
    renderItem:function(p,api){
      if(p.dataIndex===0){
        const a=api.coord([mapExtent[0],mapExtent[3]]),z=api.coord([mapExtent[1],mapExtent[2]]);
        return {type:'rect',shape:{x:a[0],y:a[1],width:z[0]-a[0],height:z[1]-a[1]},style:{fill:bandFill['0']}};
      }
      const c=list[p.dataIndex-1];
      return {type:'polygon',shape:{points:curve(c[1].map(q=>api.coord(q)),true)},style:{fill:bandFill[String(c[0])],stroke:'#46574e',lineWidth:0.7}};
    }}));
  if(i===5){
    series.push(Object.assign({},base,{type:'custom',clip:true,z:1.5,data:[[labelPatch2019[0],labelPatch2019[1]]],
      renderItem:function(p,api){const a=api.coord([labelPatch2019[0],labelPatch2019[3]]),z=api.coord([labelPatch2019[2],labelPatch2019[1]]);
        return {type:'rect',shape:{x:a[0],y:a[1],width:z[0]-a[0],height:z[1]-a[1]},style:{fill:bandFill['0']}};}}));
  }
  // frame
  series.push(Object.assign({},base,{type:'custom',clip:false,z:2,data:[[mapExtent[0],mapExtent[2]]],
    renderItem:function(p,api){const a=api.coord([mapExtent[0],mapExtent[3]]),z=api.coord([mapExtent[1],mapExtent[2]]);
      return {type:'rect',shape:{x:a[0],y:a[1],width:z[0]-a[0],height:z[1]-a[1]},style:{fill:'none',stroke:'#7d857d',lineWidth:1.2}};}}));
  // faults
  const faults=faultsDark.map(f=>[f,'#7A1418',2.3]).concat(faultsRed.map(f=>[f,'#EE2A24',2.3]),faultsBlack.map(f=>[f,'#111',1.9]));
  series.push(Object.assign({},base,{type:'custom',clip:false,z:3,data:faults.map(f=>f[0][0]),
    renderItem:function(p,api){const f=faults[p.dataIndex];
      return {type:'polyline',shape:{points:curve(f[0].map(q=>api.coord(q)),false)},style:{fill:'none',stroke:f[1],lineWidth:f[2],lineCap:'round',lineJoin:'round'}};}}));
  // stations
  series.push(Object.assign({},base,{type:'scatter',clip:false,z:4,symbol:'triangle',symbolSize:6,itemStyle:{color:'#000'},
    data:stations.map(s=>({name:s[0],value:[s[1],s[2]]})),
    label:{show:true,position:'right',distance:0,formatter:'{b}',fontFamily:SANS,fontSize:8,fontWeight:'bold',color:'#1a1a1a'}}));
  // events
  series.push(Object.assign({},base,{type:'scatter',clip:false,z:5,symbol:'circle',symbolSize:7.8,itemStyle:{color:'#000'},data:eventsByPanel[i]}));
  series.push(Object.assign({},base,{type:'scatter',clip:false,z:6,symbol:'circle',symbolSize:13,itemStyle:{color:'#EE2024',borderColor:'#222',borderWidth:0.6},data:redCircles[i]}));
  series.push(Object.assign({},base,{type:'scatter',clip:false,z:7,symbol:burstPath,symbolSize:22,symbolKeepAspect:false,itemStyle:{color:'#4A55A6'},data:[swarmCenter]}));
  if(redStars[i].length) series.push(Object.assign({},base,{type:'scatter',clip:false,z:8,symbol:starPath,symbolSize:22,itemStyle:{color:'#EE2024',borderColor:'#111',borderWidth:0.8},data:redStars[i]}));
  // historical shocks
  series.push(Object.assign({},base,{type:'scatter',clip:false,z:9,symbol:starPath,symbolSize:26,itemStyle:{color:'#fff',borderColor:'#777',borderWidth:0.4},
    data:[{name:'1872 M7.4',value:star1872}],
    label:{show:true,position:'right',distance:0,offset:lab1872[i],formatter:'{b}',fontFamily:SERIF,fontSize:14.5,color:'#333'}}));
  series.push(Object.assign({},base,{type:'scatter',clip:false,z:9,symbol:starPath,symbolSize:17,itemStyle:{color:'#fff',borderColor:'#222',borderWidth:0.7},
    data:[{name:'1995 M5.8',value:star1995}],
    label:{show:true,position:'left',distance:0,offset:lab1995[i],formatter:'{b}',fontFamily:SERIF,fontSize:14.5,color:'#333'}}));
  // tick label grid
  const h=grid.length;
  grid.push({left:t[0],top:t[1],width:t[2],height:t[3],show:false});
  xAxis.push({gridIndex:h,type:'value',min:300,max:550,interval:50,axisLine:{show:false},axisTick:{show:false},splitLine:{show:false},
    axisLabel:{margin:3,fontFamily:SERIF,fontSize:17,color:'#333',formatter:v=>xTicks[v]||''}});
  yAxis.push({gridIndex:h,type:'value',min:3850,max:4100,interval:50,axisLine:{show:false},axisTick:{show:false},splitLine:{show:false},
    axisLabel:{margin:33,fontFamily:SERIF,fontSize:17,color:'#333',formatter:v=>yTicks[v]||''}});
  // colour bar
  const k=grid.length, kx=xAxis.length;
  grid.push({left:b[0],top:b[1],width:b[2],height:b[3],show:false});
  xAxis.push({gridIndex:k,type:'value',min:0,max:1,show:false});
  const ry=yAxis.length;
  yAxis.push({gridIndex:k,type:'value',min:-2.4,max:2.4,position:'right',z:5,splitLine:{show:false},axisLine:{show:false},
    axisTick:{show:true,inside:true,length:5,lineStyle:{color:'#333',width:0.8},customValues:cbarTicks},
    axisLabel:{align:'center',margin:b[4],padding:[b[5]*2,0,0,0],fontFamily:SERIF,fontSize:17,color:'#333',customValues:cbarTicks,
      formatter:v=>v===0?'0':(v<0?'−':'')+Math.abs(v).toFixed(1)}});
  yAxis.push({gridIndex:k,type:'value',min:-2.4,max:2.4,position:'left',z:5,splitLine:{show:false},axisLine:{show:true,lineStyle:{color:'#8a8a8a',width:1}},
    axisTick:{show:true,inside:true,length:5,lineStyle:{color:'#333',width:0.8},customValues:cbarTicks},axisLabel:{show:false}});
  const bins=[];for(let n=0;n<64;n++)bins.push([0.5,-2.4+n*0.075]);
  series.push({type:'custom',coordinateSystem:'cartesian2d',xAxisIndex:kx,yAxisIndex:ry,silent:true,animation:false,z:2,data:bins,
    renderItem:function(p,api){const lo=bins[p.dataIndex][1],a=api.coord([0,lo+0.075]),z=api.coord([1,lo]);
      return {type:'rect',shape:{x:a[0],y:a[1],width:z[0]-a[0],height:z[1]-a[1]+0.6},style:{fill:ramp(lo+0.0375)}};}});
  // text furniture
  const d=dateBox[i];
  graphic.push({type:'rect',z:50,silent:true,shape:{x:d[0],y:d[1],width:d[2],height:d[3]},style:{fill:'#808080'}});
  txt(d[4],d[5],dates[i],15,{fill:'#2b2b2b'});
  txt(letterPos[i][0],letterPos[i][1],letters[i],26,{align:'center'});
  txt(x106Pos[i][0],x106Pos[i][1],'×10',16); txt(x106Pos[i][0]+25,x106Pos[i][1]-6,'6',14);
  txt(x105Pos[i][0],x105Pos[i][1],'×10',16); txt(x105Pos[i][0]+25,x105Pos[i][1]-6,'5',14);
  txt(tenPos[i][0],tenPos[i][1],'10',17); txt(tenPos[i][0]+17,tenPos[i][1]-8,'−5',18);
});

const chart=echarts.init(document.getElementById('c'),null,{renderer:'canvas',width:1190,height:1454});
chart.setOption({animation:false,backgroundColor:'#fff',tooltip:{show:false},grid:grid,xAxis:xAxis,yAxis:yAxis,series:series,graphic:graphic});
</script></body></html>
